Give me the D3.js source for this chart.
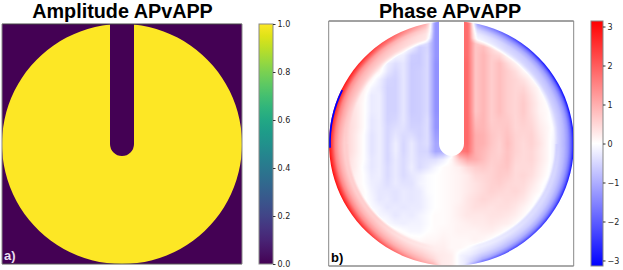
<!DOCTYPE html>
<meta charset="utf-8">
<style>
  body { margin: 0; background: #fff; }
  text { font-family: "DejaVu Sans", sans-serif; }
  .title { font-family: "Liberation Sans", sans-serif; font-weight: bold; font-size: 19.8px; fill: #000; text-anchor: middle; }
  .tag { font-family: "Liberation Sans", sans-serif; font-weight: bold; font-size: 13px; }
</style>
<script src="https://d3js.org/d3.v7.min.js"></script>
<div id="my_dataviz"></div>
<script>

var titles = ["Amplitude APvAPP", "Phase APvAPP"];
var tags = ["a)", "b)"];
var ampTicks = [0, 0.2, 0.4, 0.6, 0.8, 1];
var phaseTicks = [-3, -2, -1, 0, 1, 2, 3];

// phase: rim rings, one value every 15 deg clockwise from the top
var rimDepths = [0, 3, 6, 10, 15];
var rim0  = [0, -1.4, -2.3, -2.9, -3.1, -3.1, -3.1, -2.9, -2.7, -2.5, -2.3, -1.8, .6, 1.2, 2, 2.6, 2.9, 3, 3, 3, 2.9, 2.6, 2, 1.2];
var rim3  = [0, -1, -1.5, -1.7, -1.8, -1.8, -1.9, -1.8, -1.7, -1.5, -1.4, -1, .3, .9, 1.4, 1.9, 2.2, 2.3, 2.3, 2.4, 2.2, 2, 1.6, .9];
var rim6  = [0, -.6, -1, -1.1, -1.2, -1.2, -1.3, -1.2, -1.1, -1, -.9, -.7, .1, .7, 1, 1.3, 1.5, 1.5, 1.5, 1.6, 1.4, 1.3, 1, .6];
var rim10 = [0, -.3, -.6, -.7, -.8, -.8, -.9, -.8, -.7, -.6, -.6, -.4, .1, .5, .7, .9, 1, 1, 1, 1.1, 1, .9, .7, .4];
var rim15 = [0, -.1, -.4, -.5, -.55, -.55, -.6, -.5, -.45, -.4, -.3, -.2, .1, .3, .4, .6, .6, .6, .6, .7, .7, .6, .5, .3];
var wrapSliver = [268, 296];

// interior phase, rows y = -120..120 and columns x = -120..120 every 8 px around the centre
var gridStep = 8;
var phaseRows = [
[0,0,0,0,0,0,0,0,.5,.4,.4,.3,.1,-1.3,-1.3,0,1.8,1.8,.5,0,-.3,-.5,-.6,0,0,0,0,0,0,0,0],
[0,0,0,0,0,0,0,.6,.5,.4,.4,.3,.1,-1.3,-1.3,0,1.8,1.8,.5,0,-.3,-.5,-.6,-.7,0,0,0,0,0,0,0],
[0,0,0,0,0,.6,.6,.5,.5,.4,.2,0,-.4,-1.3,-1.3,0,1.8,1.8,.7,.4,0,-.3,-.5,-.5,-.7,-.7,0,0,0,0,0],
[0,0,0,0,.7,.7,.6,.5,.4,.1,-.2,-.6,-.5,-1.3,-1.3,0,1.8,1.8,.7,.8,.45,.05,-.2,-.4,-.6,-.7,-.7,0,0,0,0],
[0,0,0,.7,.7,.6,.5,.2,-.1,-.2,-.6,-.65,-.45,-1.3,-1.3,0,1.8,1.8,.7,.9,.6,.5,.1,-.15,-.4,-.6,-.7,-.7,0,0,0],
[0,0,.8,.7,.6,.4,.2,-.2,-.4,-.3,-.65,-.65,-.45,-1.35,-1.35,0,1.85,1.85,.7,.9,.6,.8,.45,.15,-.1,-.35,-.6,-.7,-.8,0,0],
[0,.9,.8,.6,.4,.25,.1,-.3,-.5,-.3,-.65,-.6,-.45,-1.35,-1.35,0,1.85,1.85,.7,.9,.6,.8,.6,.4,.1,-.1,-.35,-.6,-.7,-.8,0],
[0,.9,.7,.5,.3,.1,-.2,-.5,-.55,-.3,-.65,-.6,-.45,-1.35,-1.35,0,1.85,1.85,.7,.9,.6,.8,.6,.5,.35,.1,-.15,-.4,-.7,-.8,0],
[.9,.9,.6,.4,.2,-.1,-.25,-.55,-.55,-.3,-.65,-.6,-.45,-1.35,-1.35,0,1.85,1.85,.7,.9,.6,.8,.6,.5,.5,.25,.05,-.2,-.55,-.8,-.9],
[.9,.9,.55,.35,.1,-.25,-.2,-.55,-.55,-.3,-.65,-.6,-.45,-1.35,-1.35,0,1.85,1.85,.7,.9,.6,.8,.6,.5,.6,.35,.1,-.05,-.4,-.8,-.9],
[.9,.9,.5,.3,.05,-.25,-.2,-.55,-.55,-.3,-.65,-.6,-.45,-1.35,-1.35,0,1.85,1.85,.7,.9,.6,.8,.6,.5,.65,.4,.15,0,-.3,-.7,-.9],
[.8,.9,.5,.3,.05,-.25,-.2,-.55,-.55,-.3,-.65,-.6,-.45,-1.35,-1.35,0,1.85,1.85,.7,.9,.6,.8,.6,.5,.65,.4,.15,.05,-.2,-.6,-.8],
[.8,.9,.5,.3,.05,-.3,-.2,-.55,-.5,-.3,-.6,-.6,-.4,-1.3,-1.3,0,1.85,1.85,.8,.9,.6,.7,.65,.5,.6,.45,.2,.05,-.15,-.6,-.8],
[.8,.9,.5,.3,.05,-.3,-.2,-.5,-.4,-.35,-.55,-.55,-.4,-1.3,-1.3,0,1.85,1.85,.9,.9,.65,.65,.7,.5,.55,.5,.25,.1,-.1,-.6,-.8],
[.8,.9,.5,.25,0,-.35,-.2,-.5,-.3,-.45,-.4,-.55,-.4,-1.2,-1.2,0,1.85,1.85,1,.95,.7,.6,.75,.55,.5,.55,.3,.1,-.15,-.65,-.8],
[.8,.9,.5,.25,0,-.35,-.2,-.5,-.2,-.5,-.25,-.5,-.4,-1.1,-1.1,0,1.85,1.85,1,.95,.7,.55,.8,.55,.45,.55,.35,.1,-.2,-.7,-.9],
[.8,.85,.5,.25,0,-.35,-.2,-.5,-.2,-.5,-.25,-.5,-.5,-1.1,-1,-.2,1.6,1.75,1,.85,.65,.55,.75,.55,.45,.5,.3,.1,-.2,-.7,-.9],
[.8,.8,.45,.2,0,-.3,-.2,-.5,-.25,-.45,-.25,-.45,-.4,-.4,-.2,.1,.7,1.1,1,.8,.6,.6,.75,.5,.45,.5,.3,.1,-.2,-.65,-.8],
[.8,.8,.4,.2,-.05,-.3,-.2,-.45,-.25,-.45,-.2,-.45,-.3,-.1,.05,.1,.2,.45,.6,.65,.55,.65,.7,.45,.45,.45,.25,.05,-.25,-.6,-.8],
[.7,.7,.4,.15,0,-.25,-.2,-.45,-.25,-.45,-.3,-.2,-.05,0,.05,.1,.15,.25,.45,.5,.55,.65,.6,.45,.5,.4,.2,0,-.3,-.6,-.7],
[.7,.7,.4,.15,0,-.2,-.25,-.4,-.25,-.35,-.35,-.15,-.05,0,.05,.1,.15,.25,.35,.45,.55,.6,.5,.45,.45,.3,.1,-.1,-.35,-.6,-.7],
[0,.7,.45,.2,.05,-.15,-.3,-.3,-.35,-.25,-.3,-.25,-.05,0,.05,.1,.15,.25,.35,.45,.55,.5,.45,.5,.4,.2,.05,-.2,-.4,-.6,0],
[0,.7,.5,.3,.05,-.1,-.3,-.25,-.35,-.25,-.3,-.25,-.1,0,.05,.1,.15,.3,.4,.5,.45,.4,.45,.4,.3,.1,-.1,-.3,-.5,-.6,0],
[0,0,.6,.35,.15,-.05,-.15,-.3,-.25,-.3,-.25,-.25,-.1,0,.05,.1,.2,.3,.4,.4,.35,.4,.4,.3,.15,0,-.2,-.4,-.6,0,0],
[0,0,.6,.4,.25,.1,-.1,-.15,-.3,-.2,-.25,-.15,-.05,.05,.05,.1,.2,.3,.3,.3,.35,.35,.3,.2,.05,-.1,-.3,-.5,-.6,0,0],
[0,0,0,.5,.35,.2,.1,-.05,-.15,-.2,-.15,-.15,-.05,.05,.05,.1,.15,.2,.25,.25,.3,.25,.2,.05,-.1,-.25,-.4,-.5,0,0,0],
[0,0,0,0,.4,.3,.25,.2,.1,0,-.1,-.1,0,.05,.1,.1,.15,.15,.15,.2,.2,.1,-.05,-.2,-.35,-.45,-.5,0,0,0,0],
[0,0,0,0,0,.4,.35,.3,.3,.2,.1,.05,.1,.1,.15,.1,.1,.1,.15,.1,0,-.15,-.3,-.4,-.5,-.5,0,0,0,0,0],
[0,0,0,0,0,0,.5,.4,.35,.3,.25,.2,.2,.2,.2,.1,.1,.05,0,-.1,-.25,-.4,-.5,-.5,0,0,0,0,0,0,0],
[0,0,0,0,0,0,0,.5,.45,.4,.4,.3,.3,.3,.25,.2,-.1,-.3,-.4,-.5,-.5,-.5,-.5,0,0,0,0,0,0,0,0],
[0,0,0,0,0,0,0,0,0,0,.4,.3,.3,.3,.25,.2,-.1,-.3,-.4,-.5,-.5,0,0,0,0,0,0,0,0,0,0]
];

var ampPanel = {x: 2, y: 24, size: 240, cx: 122, cy: 144, r: 120, slit: 12, slitEnd: 144};
var phasePanel = {x: 328.7, y: 21, size: 245, cx: 451.5, cy: 143.5, r: 122.5, slit: 12.5, slitEnd: 143.5};
var ampBar = {x: 259, y: 24, w: 14, h: 240};
var phaseBar = {x: 591, y: 21, w: 12, h: 245};
var phaseMax = Math.PI;

var svg = d3.select("#my_dataviz").append("svg")
    .attr("width", 623)
    .attr("height", 270)
    .style("display", "block");

var defs = svg.append("defs");

var ampColor = d3.scaleSequential(d3.interpolateViridis).domain([0, 1]);
var phaseColor = d3.scaleLinear().domain([-phaseMax, 0, phaseMax]).range(["#0000ff", "#ffffff", "#ff0000"]).clamp(true);

// disc with the slit cut from the top down to a round end
function apertureRing(p) {
  var path = d3.path();
  var d = Math.asin(p.slit / p.r);
  path.arc(p.cx, p.cy, p.r, -Math.PI / 2 + d, 3 * Math.PI / 2 - d);
  path.lineTo(p.cx - p.slit, p.slitEnd);
  path.arc(p.cx, p.slitEnd, p.slit, Math.PI, 0, true);
  path.closePath();
  return path.toString();
}

// read the phase tables, bilinear between the values
var colScale = d3.scaleLinear().domain([-120, 120]).range([0, 30]);
var rimRows = [rim0, rim3, rim6, rim10, rim15];
var depthScale = d3.scaleLinear().domain(rimDepths).range(d3.range(rimDepths.length)).clamp(true);

function gridPhase(x, y) {
  var cx = Math.max(0, Math.min(29.999, colScale(x)));
  var cy = Math.max(0, Math.min(29.999, colScale(y)));
  var i = Math.floor(cx), j = Math.floor(cy), fx = cx - i, fy = cy - j;
  var a = phaseRows[j][i] * (1 - fx) + phaseRows[j][i + 1] * fx;
  var b = phaseRows[j + 1][i] * (1 - fx) + phaseRows[j + 1][i + 1] * fx;
  return a * (1 - fy) + b * fy;
}

function rimPhase(depth, angle) {
  var d = depthScale(depth);
  var k = Math.min(3, Math.floor(d)), fd = d - k;
  var a = angle / 15, i = Math.floor(a) % 24, n = (i + 1) % 24, fa = a - Math.floor(a);
  var v0 = rimRows[k][i] * (1 - fa) + rimRows[k][n] * fa;
  var v1 = rimRows[k + 1][i] * (1 - fa) + rimRows[k + 1][n] * fa;
  return v0 * (1 - fd) + v1 * fd;
}

function phaseAt(x, y) {
  var r = Math.sqrt(x * x + y * y);
  var depth = phasePanel.r - r;
  var angle = (Math.atan2(x, -y) * 180 / Math.PI + 360) % 360;
  var g = gridPhase(x, y);
  var w = (1 - Math.max(0, Math.min(1, (depth - 15) / 5))) * Math.max(0, Math.min(1, (Math.abs(x) - 18) / 8) + (y > 0 ? 1 : 0));
  w = Math.min(1, w);
  if (w <= 0) return g;
  return g * (1 - w) + rimPhase(depth, angle) * w;
}

// the heat map goes into a canvas and then into the svg as an image
var size = Math.round(phasePanel.size);
var canvas = document.createElement("canvas");
canvas.width = size;
canvas.height = size;
var ctx = canvas.getContext("2d");
var x0 = phasePanel.cx - phasePanel.x, y0 = phasePanel.cy - phasePanel.y;
for (var py = 0; py < size; py++) {
  for (var px = 0; px < size; px++) {
    ctx.fillStyle = phaseColor(phaseAt(px + 0.5 - x0, py + 0.5 - y0));
    ctx.fillRect(px, py, 1, 1);
  }
}

// left panel
svg.append("rect")
    .attr("x", ampPanel.x).attr("y", ampPanel.y)
    .attr("width", ampPanel.size).attr("height", ampPanel.size)
    .attr("fill", ampColor(0));
svg.append("path").attr("d", apertureRing(ampPanel)).attr("fill", ampColor(1));

// right panel
defs.append("clipPath").attr("id", "phase-clip")
  .append("path").attr("d", apertureRing(phasePanel));
svg.append("image")
    .attr("x", phasePanel.x).attr("y", phasePanel.y)
    .attr("width", size).attr("height", size)
    .attr("href", canvas.toDataURL())
    .attr("clip-path", "url(#phase-clip)");
svg.append("path")
    .attr("transform", "translate(" + phasePanel.cx + "," + phasePanel.cy + ")")
    .attr("d", d3.arc()({
      innerRadius: phasePanel.r - 1.8,
      outerRadius: phasePanel.r,
      startAngle: wrapSliver[0] * Math.PI / 180,
      endAngle: wrapSliver[1] * Math.PI / 180
    }))
    .attr("fill", phaseColor(-phaseMax));

// frames
[ampPanel, phasePanel].forEach(function(p) {
  svg.append("line").attr("x1", p.x).attr("x2", p.x + p.size).attr("y1", p.y).attr("y2", p.y).attr("stroke", "#444");
  svg.append("line").attr("x1", p.x).attr("x2", p.x + p.size).attr("y1", p.y + p.size).attr("y2", p.y + p.size).attr("stroke", "#555");
  svg.append("line").attr("x1", p.x).attr("x2", p.x).attr("y1", p.y).attr("y2", p.y + p.size).attr("stroke", "#888");
  svg.append("line").attr("x1", p.x + p.size).attr("x2", p.x + p.size).attr("y1", p.y).attr("y2", p.y + p.size).attr("stroke", "#888");
});

svg.selectAll(".title").data(titles).enter().append("text")
    .attr("class", "title")
    .attr("x", function(d, i) { return i == 0 ? 122.5 : 450; })
    .attr("y", 18)
    .text(function(d) { return d; });

svg.append("text").attr("class", "tag").attr("x", 4).attr("y", 260).attr("fill", "#e8dff0").text(tags[0]);
svg.append("text").attr("class", "tag").attr("x", 331).attr("y", 262).attr("fill", "#000").text(tags[1]);

// colorbars
function colorbar(bar, color, domain, ticks, format, id) {
  var y = d3.scaleLinear().domain(domain).range([bar.y + bar.h, bar.y]);
  var stops = d3.range(0, 1.0001, 0.05);
  defs.append("linearGradient").attr("id", id)
      .attr("x1", 0).attr("x2", 0).attr("y1", 1).attr("y2", 0)
    .selectAll("stop").data(stops).enter().append("stop")
      .attr("offset", function(d) { return d; })
      .attr("stop-color", function(d) { return color(domain[0] + d * (domain[1] - domain[0])); });
  svg.append("rect")
      .attr("x", bar.x).attr("y", bar.y).attr("width", bar.w).attr("height", bar.h)
      .attr("fill", "url(#" + id + ")")
      .attr("stroke", "#888");
  var axis = svg.append("g")
      .attr("transform", "translate(" + (bar.x + bar.w) + ",0)")
      .call(d3.axisRight(y).tickValues(ticks).tickFormat(format).tickSize(2.5).tickPadding(2));
  axis.select(".domain").remove();
  axis.selectAll("line").attr("stroke", "#333");
  axis.selectAll("text").style("font-size", "8px").attr("fill", "#222");
}

colorbar(ampBar, ampColor, [0, 1], ampTicks, d3.format(".1f"), "amp-grad");
colorbar(phaseBar, phaseColor, [-phaseMax, phaseMax], phaseTicks, function(d) { return d < 0 ? "\u2212" + (-d) : d; }, "phase-grad");

</script>
